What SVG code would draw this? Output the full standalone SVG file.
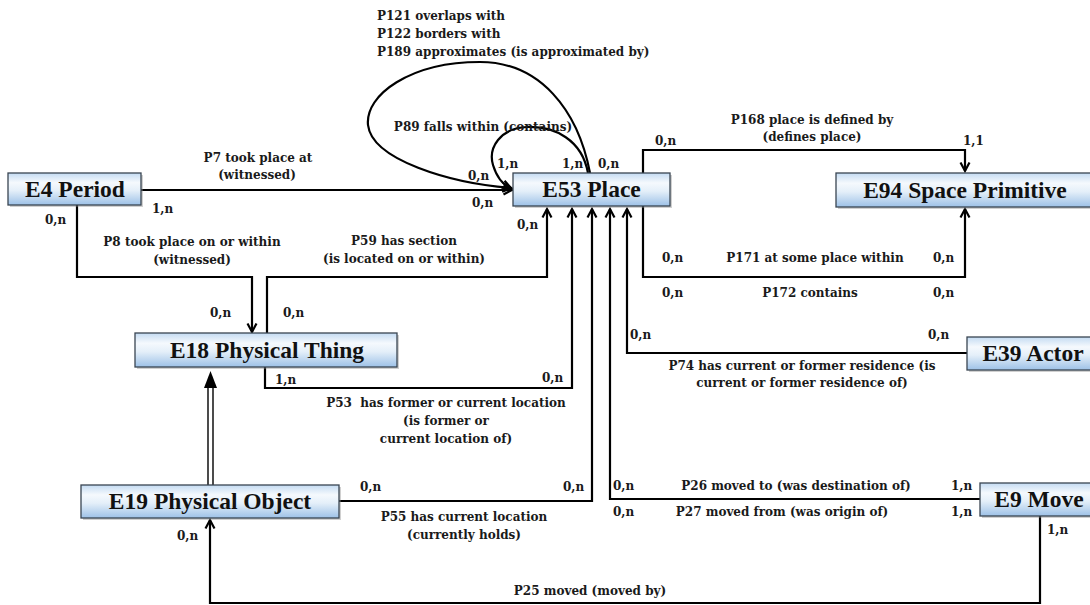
<svg xmlns="http://www.w3.org/2000/svg" width="1090" height="605" viewBox="0 0 1090 605">
<defs>
<linearGradient id="boxfill" x1="0" y1="0" x2="0" y2="1">
<stop offset="0" stop-color="#c4dbf2"/>
<stop offset="0.3" stop-color="#f5f9fd"/>
<stop offset="0.55" stop-color="#e4eff9"/>
<stop offset="1" stop-color="#9dc1e7"/>
</linearGradient>
<marker id="arr" markerUnits="userSpaceOnUse" markerWidth="12" markerHeight="12" viewBox="0 0 12 12" refX="10.5" refY="6" orient="auto" overflow="visible">
<path d="M2,1.5 L10.5,6 L2,10.5" fill="none" stroke="#000" stroke-width="2.2"/>
</marker>
</defs>
<style>
.box{fill:url(#boxfill);stroke:#3a4552;stroke-width:1.3}
.shadow{fill:#8a8a8a;opacity:.4}
.title{font-family:"Liberation Serif","DejaVu Serif",serif;font-weight:bold;font-size:23.5px;fill:#111;text-anchor:middle}
.lbl{font-family:"DejaVu Serif","Liberation Serif",serif;font-weight:bold;font-size:12px;fill:#1a1a1a}
.c{text-anchor:middle}
.edge{fill:none;stroke:#000;stroke-width:2.2}
.arrow{marker-end:url(#arr)}
.thin{fill:none;stroke:#000;stroke-width:1.4}
</style>
<rect width="1090" height="605" fill="#ffffff"/>

<g id="connectors">
<g id="p7">
<path class="edge arrow" d="M141,190 H512"/>
<text class="lbl c" x="258" y="162">P7 took place at</text>
<text class="lbl c" x="257" y="179">(witnessed)</text>
<text class="lbl" x="152" y="213">1,n</text>
<text class="lbl" x="472" y="207">0,n</text>
</g>
<g id="p121">
<path class="edge arrow" d="M590,173 C578,110 540,62 480,62 C410,62 365,95 368,125 C372,160 450,183 511,188"/>
<text class="lbl" x="377" y="20">P121 overlaps with</text>
<text class="lbl" x="377" y="38">P122 borders with</text>
<text class="lbl" x="377" y="56">P189 approximates (is approximated by)</text>
<text class="lbl" x="468" y="180">0,n</text>
<text class="lbl" x="598" y="168">0,n</text>
</g>
<g id="p89">
<path class="edge arrow" d="M588,173 C582,140 555,126 527,127 C500,128 488,148 493,165 C497,178 503,185 511,188"/>
<text class="lbl c" x="483" y="131">P89 falls within (contains)</text>
<text class="lbl" x="497" y="168">1,n</text>
<text class="lbl" x="562" y="168">1,n</text>
</g>
<g id="p8">
<path class="edge arrow" d="M77,205 V277 H252 V332"/>
<text class="lbl c" x="192" y="246">P8 took place on or within</text>
<text class="lbl c" x="192" y="264">(witnessed)</text>
<text class="lbl" x="45" y="224">0,n</text>
<text class="lbl" x="210" y="317">0,n</text>
</g>
<g id="p59">
<path class="edge arrow" d="M267,333 V277 H547 V209"/>
<text class="lbl c" x="404" y="245">P59 has section</text>
<text class="lbl c" x="404" y="263">(is located on or within)</text>
<text class="lbl" x="283" y="317">0,n</text>
<text class="lbl" x="517" y="229">0,n</text>
</g>
<g id="p53">
<path class="edge arrow" d="M265,367 V388 H572 V209"/>
<text class="lbl" x="275" y="384">1,n</text>
<text class="lbl" x="542" y="382">0,n</text>
<text class="lbl c" x="446" y="407">P53&#160; has former or current location</text>
<text class="lbl c" x="446" y="425">(is former or</text>
<text class="lbl c" x="446" y="443">current location of)</text>
</g>
<g id="p55">
<path class="edge arrow" d="M339,501 H592 V209"/>
<text class="lbl" x="360" y="491">0,n</text>
<text class="lbl" x="563" y="491">0,n</text>
<text class="lbl c" x="464" y="521">P55 has current location</text>
<text class="lbl c" x="464" y="539">(currently holds)</text>
</g>
<g id="p26">
<path class="edge arrow" d="M980,499 H610 V209"/>
<text class="lbl" x="613" y="490">0,n</text>
<text class="lbl c" x="796" y="490">P26 moved to (was destination of)</text>
<text class="lbl" x="951" y="490">1,n</text>
<text class="lbl" x="613" y="516">0,n</text>
<text class="lbl c" x="782" y="516">P27 moved from (was origin of)</text>
<text class="lbl" x="951" y="516">1,n</text>
</g>
<g id="p74">
<path class="edge arrow" d="M967,353 H627 V209"/>
<text class="lbl" x="630" y="339">0,n</text>
<text class="lbl" x="928" y="339">0,n</text>
<text class="lbl c" x="802" y="370">P74 has current or former residence (is</text>
<text class="lbl c" x="802" y="387">current or former residence of)</text>
</g>
<g id="p168">
<path class="edge arrow" d="M643,173 V150 H965 V171"/>
<text class="lbl c" x="812" y="124">P168 place is defined by</text>
<text class="lbl c" x="812" y="141">(defines place)</text>
<text class="lbl" x="655" y="145">0,n</text>
<text class="lbl" x="963" y="145">1,1</text>
</g>
<g id="p171">
<path class="edge arrow" d="M643,206 V277 H965 V209"/>
<text class="lbl" x="662" y="262">0,n</text>
<text class="lbl c" x="815" y="262">P171 at some place within</text>
<text class="lbl" x="933" y="262">0,n</text>
<text class="lbl" x="662" y="297">0,n</text>
<text class="lbl c" x="810" y="297">P172 contains</text>
<text class="lbl" x="933" y="297">0,n</text>
</g>
<g id="p25">
<path class="edge arrow" d="M1040,516 V603 H210 V520"/>
<text class="lbl" x="1047" y="534">1,n</text>
<text class="lbl" x="177" y="540">0,n</text>
<text class="lbl c" x="590" y="595">P25 moved (moved by)</text>
</g>
<g id="isa">
<path class="thin" d="M208,485 V386 M213,485 V386"/>
<path d="M210.5,371 L204,388 L217,388 Z" fill="#000"/>
</g>
</g>

<g id="n-e4">
<rect class="shadow" x="10" y="175" width="133" height="32"/>
<rect class="box" x="8" y="173" width="133" height="32"/>
<text class="title" x="75" y="197">E4 Period</text>
</g>
<g id="n-e53">
<rect class="shadow" x="515" y="175" width="157" height="33"/>
<rect class="box" x="513" y="173" width="157" height="33"/>
<text class="title" x="591.5" y="197">E53 Place</text>
</g>
<g id="n-e94">
<rect class="shadow" x="838" y="175" width="258" height="34"/>
<rect class="box" x="836" y="173" width="258" height="34"/>
<text class="title" x="965" y="198">E94 Space Primitive</text>
</g>
<g id="n-e18">
<rect class="shadow" x="137" y="335" width="262" height="34"/>
<rect class="box" x="135" y="333" width="262" height="34"/>
<text class="title" x="267" y="358">E18 Physical Thing</text>
</g>
<g id="n-e39">
<rect class="shadow" x="969" y="339" width="133" height="33"/>
<rect class="box" x="967" y="337" width="133" height="33"/>
<text class="title" x="1033" y="361">E39 Actor</text>
</g>
<g id="n-e19">
<rect class="shadow" x="83" y="487" width="258" height="33"/>
<rect class="box" x="81" y="485" width="258" height="33"/>
<text class="title" x="210" y="509">E19 Physical Object</text>
</g>
<g id="n-e9">
<rect class="shadow" x="982" y="485" width="118" height="33"/>
<rect class="box" x="980" y="483" width="118" height="33"/>
<text class="title" x="1039" y="507">E9 Move</text>
</g>
</svg>
